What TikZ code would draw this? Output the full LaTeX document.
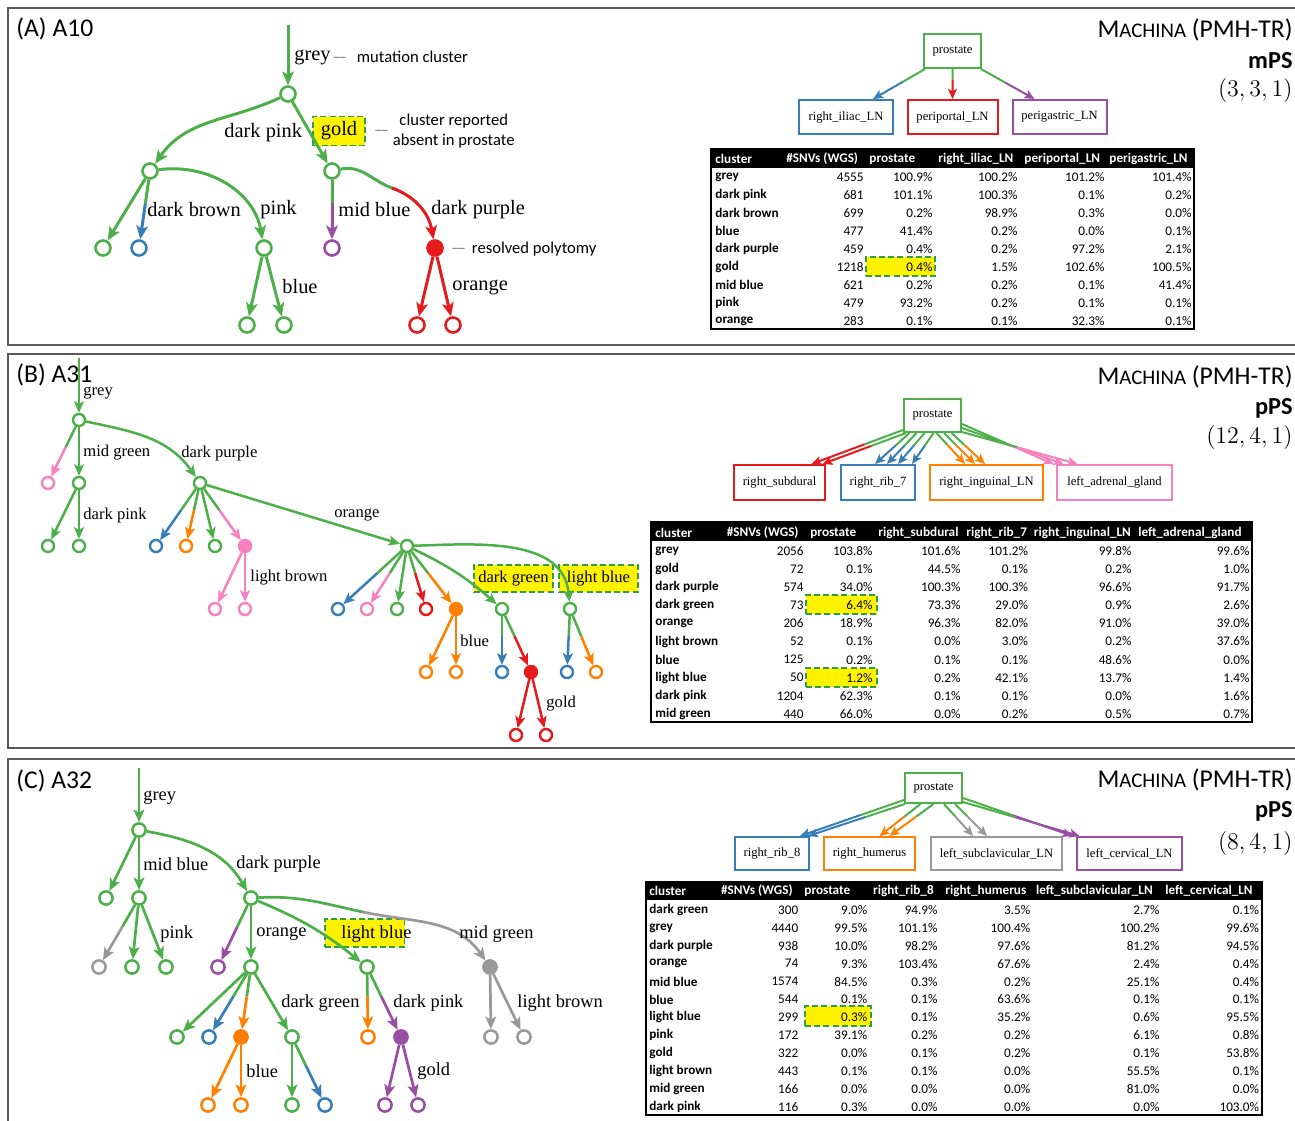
\documentclass[tikz,border=0pt]{standalone}
\usepackage[no-math]{fontspec}
\setmainfont{Liberation Serif}
\newfontfamily\calib{Carlito}
\usetikzlibrary{arrows.meta,calc}

\definecolor{cgreen}{HTML}{4DAF4A}
\definecolor{cblue}{HTML}{377EB8}
\definecolor{cred}{HTML}{E41A1C}
\definecolor{cpurple}{HTML}{984EA3}
\definecolor{corange}{HTML}{FF7F00}
\definecolor{cpink}{HTML}{F781BF}
\definecolor{cgrey}{HTML}{999999}
\definecolor{hlgreen}{HTML}{2E9E48}

\begin{document}
\begin{tikzpicture}[x=0.5pt, y=-0.5pt, >={Stealth[length=6.8pt,width=5.8pt,inset=1.6pt]},
  frame/.style={draw=black!65, line width=0.8pt},
  vtx/.style={circle, draw=cgreen, fill=white, line width=1.3pt, minimum size=7.5pt, inner sep=0pt},
  full/.style={fill=#1, draw=#1},
  tedge/.style={line width=1.5pt},
  lab/.style={anchor=west, inner sep=0pt, font=\fontsize{#1}{#1}\selectfont},
  note/.style={anchor=west, inner sep=0pt, font=\calib\fontsize{8.3}{10}\selectfont},
  hl/.style={fill=yellow, draw=hlgreen, line width=0.9pt, dash pattern=on 3pt off 1.6pt, inner sep=0pt},
  loc/.style={draw=#1, line width=1pt, fill=white, inner sep=0pt, minimum height=17pt, font=\fontsize{6.3}{7}\selectfont},
  mig/.style={line width=1pt},
  mtip/.style={-{Stealth[length=5pt,width=4.4pt,inset=1.1pt]}},
  ptitle/.style={anchor=west, inner sep=0pt, font=\calib\fontsize{12.8}{14}\selectfont},
  side/.style={anchor=east, inner sep=0pt},
  head/.style={anchor=west, inner sep=0pt, text=white, font=\calib\bfseries\fontsize{6.6}{7}\selectfont},
  rowname/.style={anchor=west, inner sep=0pt, font=\calib\bfseries\fontsize{6.6}{7}\selectfont},
  cell/.style={anchor=east, inner sep=0pt, font=\calib\fontsize{6.6}{7}\selectfont},
  tab/.style={draw=black, line width=1pt}
]

\useasboundingbox (0,0) rectangle (1295,1120);

% panel frames
\draw[frame] (1300,8) -- (8,8) -- (8,345) -- (1300,345);
\draw[frame] (1300,354) -- (8,354) -- (8,748) -- (1300,748);
\draw[frame] (1300,759) -- (8,759) -- (8,1130);

%%% (A) A10
\begin{scope}
\node[ptitle] (aTitle) at (16,29) {(A) A10};
\node[side, font=\calib\fontsize{12.8}{14}\selectfont] (aMac) at (1293,30) {M{\fontsize{10.4}{12}\selectfont ACHINA} (PMH-TR)};
\node[side, font=\calib\bfseries\fontsize{12.2}{14}\selectfont] (aMod) at (1293,61) {mPS};
\node[side, font=\fontsize{12.3}{14}\selectfont] (aTup) at (1293,90) {$(3,3,1)$};

% tree
\node[hl, minimum width=26pt, minimum height=14.5pt, font=\fontsize{10.2}{12}\selectfont] (aGold) at (339,131) {gold};
\coordinate (aTop) at (288,25);
\coordinate (aSw) at (392,188);

\foreach \nm/\px/\py/\col in {a0/288/94/cgreen, a1/150/171/cgreen, a2/332/171/cgreen,
    a3/103/248/cgreen, a4/139/248/cblue, a5/264/248/cgreen, a6/332/248/cpurple,
    a8/247/325/cgreen, a9/284/325/cgreen, a10/417/325/cred, a11/453/325/cred}
  \node[vtx, draw=\col] (\nm) at (\px,\py) {};
\node[vtx, full=cred] (a7) at (435,248) {};

\draw[tedge, cgreen, ->] (aTop) -- (a0);
\draw[tedge, cgreen, ->] (a0) to[out=205, in=55] (a1);
\draw[tedge, cgreen, ->] (a1) to[out=8, in=100] (a5);
\draw[tedge, cgreen] (a2) to[out=12, in=160] (aSw);
\draw[tedge, cred, ->] (aSw) to[out=-20, in=100] (a7);

\foreach \i/\j/\col in {a0/a2/cgreen, a1/a3/cgreen, a5/a8/cgreen, a5/a9/cgreen, a7/a10/cred, a7/a11/cred}
  \draw[tedge, \col, ->] (\i) -- (\j);

\foreach \i/\j/\col in {a1/a4/cblue, a2/a6/cpurple} {
  \draw[tedge, cgreen] (\i) -- ($(\i)!0.42!(\j)$);
  \draw[tedge, \col, ->] ($(\i)!0.42!(\j)$) -- (\j);
}

\foreach \t/\px/\py [count=\k] in {grey/294/57, dark pink/224/133, dark brown/147/210, pink/260/210,
    mid blue/338/210, dark purple/431/210, blue/282/287, orange/452/287}
  \node[lab=10.2] (aL\k) at (\px,\py) {\t};

\node[note] (aN1) at (332,57) {\textcolor{black!50}{\textendash\kern-1pt\textendash}\hspace{5pt}mutation cluster};
\node[note] (aN2) at (374,131) {\textcolor{black!50}{\textendash\kern-1pt\textendash}\hspace{2pt}\begin{tabular}{@{}c@{}}cluster reported\\absent in prostate\end{tabular}};
\node[note] (aN3) at (451,249) {\textcolor{black!50}{\textendash\kern-1pt\textendash}\hspace{3pt}resolved polytomy};

% migration graph
\node[loc=cgreen, minimum width=28.5pt] (aPro) at (952.5,51) {prostate};
\node[loc=cblue, minimum width=47pt] (aIli) at (846,117) {right\_iliac\_LN};
\node[loc=cred, minimum width=45pt] (aPer) at (952.5,117) {periportal\_LN};
\node[loc=cpurple, minimum width=47pt] (aGas) at (1059.5,117) {perigastric\_LN};

\foreach \st/\sx/\sy/\en/\ex/\col/\fr in {aPro.south west/2/0/aIli.north/27/cblue/0.43,
    aPro.south/0/0/aPer.north/0/cred/0.35, aPro.south east/-1/0/aGas.north/-25/cpurple/0.45} {
  \coordinate (ms) at ($(\st)+(\sx,\sy)$);
  \coordinate (me) at ($(\en)+(\ex,0)$);
  \draw[mig, cgreen] (ms) -- ($(ms)!\fr!(me)$);
  \draw[mig, mtip, \col] ($(ms)!\fr!(me)$) -- (me);
}

% table
\fill (711,149) rectangle (1194,168);
\node[hl, minimum width=34.5pt, minimum height=9.5pt] (aHl) at (900.5,266.5) {};
\draw[tab] (711,149) rectangle (1194,329);
\foreach \t/\px [count=\k] in {cluster/715, \#SNVs (WGS)/786, prostate/869, right\_iliac\_LN/938,
    periportal\_LN/1024, perigastric\_LN/1109}
  \node[head] (aH\k) at (\px,159) {\t};
\foreach \nm/\sn/\vA/\vB/\vC/\vD [count=\k] in {grey/4555/100.9/100.2/101.2/101.4,
    dark pink/681/101.1/100.3/0.1/0.2, dark brown/699/0.2/98.9/0.3/0.0, blue/477/41.4/0.2/0.0/0.1,
    dark purple/459/0.4/0.2/97.2/2.1, gold/1218/0.4/1.5/102.6/100.5, mid blue/621/0.2/0.2/0.1/41.4,
    pink/479/93.2/0.2/0.1/0.1, orange/283/0.1/0.1/32.3/0.1} {
  \node[rowname] (aR\k) at (715,{159+18*\k}) {\nm};
  \node[cell] (aS\k) at (864,{159+18*\k}) {\sn};
  \node[cell] (aA\k) at (933,{159+18*\k}) {\vA\%};
  \node[cell] (aB\k) at (1018,{159+18*\k}) {\vB\%};
  \node[cell] (aC\k) at (1105,{159+18*\k}) {\vC\%};
  \node[cell] (aD\k) at (1192,{159+18*\k}) {\vD\%};
}
\end{scope}

%%% (B) A31
\begin{scope}[>={Stealth[length=5.8pt,width=5pt,inset=1.4pt]},
  vtx/.append style={minimum size=6pt, line width=1.2pt}, tedge/.append style={line width=1.25pt}]
\node[ptitle] (bTitle) at (16,375) {(B) A31};
\node[side, font=\calib\fontsize{12.8}{14}\selectfont] (bMac) at (1293,377) {M{\fontsize{10.4}{12}\selectfont ACHINA} (PMH-TR)};
\node[side, font=\calib\bfseries\fontsize{12.2}{14}\selectfont] (bMod) at (1293,408) {pPS};
\node[side, font=\fontsize{12.3}{14}\selectfont] (bTup) at (1293,437) {$(12,4,1)$};

% tree
\node[hl, minimum width=39.5pt, minimum height=13.5pt, font=\fontsize{8.3}{10}\selectfont] (bDg) at (513.5,578.5) {dark green};
\node[hl, minimum width=39.5pt, minimum height=13.5pt, font=\fontsize{8.3}{10}\selectfont] (bLb) at (598.5,578.5) {light blue};
\coordinate (bTop) at (79,358);

\foreach \nm/\px/\py/\col in {b0/79/420/cgreen, b1/48/483/cpink, b2/79/483/cgreen, b3/200/483/cgreen,
    b4/48/546/cgreen, b5/79/546/cgreen, b6/156/546/cblue, b7/186/546/corange, b8/215/546/cgreen,
    b10/407/546/cgreen, b11/215/609/cpink, b12/245/609/cpink, b13/338/609/cblue, b14/367/609/cpink,
    b15/397/609/cgreen, b16/426/609/cred, b18/502/609/cgreen, b19/570/609/cgreen,
    b20/426/672/corange, b21/456/672/corange, b22/502/672/cblue, b24/567/672/cblue,
    b25/596/672/corange, b26/516/735/cred, b27/546/735/cred}
  \node[vtx, draw=\col] (\nm) at (\px,\py) {};
\foreach \nm/\px/\py/\col in {b9/245/546/cpink, b17/456/609/corange, b23/531/672/cred}
  \node[vtx, full=\col] (\nm) at (\px,\py) {};

\draw[tedge, cgreen, ->] (bTop) -- (b0);
\draw[tedge, cgreen, ->] (b0) to[out=-12, in=125] (b3);
\draw[tedge, cgreen, ->] (b10) to[bend left=8] (b18);
\draw[tedge, cgreen, ->] (b10) to[out=2, in=95] (b19);

\foreach \i/\j/\col in {b0/b2/cgreen, b2/b4/cgreen, b2/b5/cgreen, b3/b8/cgreen, b3/b10/cgreen,
    b10/b15/cgreen, b9/b11/cpink, b9/b12/cpink, b17/b20/corange, b17/b21/corange,
    b23/b26/cred, b23/b27/cred}
  \draw[tedge, \col, ->] (\i) -- (\j);

\foreach \i/\j/\col in {b0/b1/cpink, b3/b6/cblue, b3/b7/corange, b3/b9/cpink, b10/b13/cblue,
    b10/b14/cpink, b10/b16/cred, b10/b17/corange, b18/b22/cblue, b18/b23/cred,
    b19/b24/cblue, b19/b25/corange} {
  \draw[tedge, cgreen] (\i) -- ($(\i)!0.43!(\j)$);
  \draw[tedge, \col, ->] ($(\i)!0.43!(\j)$) -- (\j);
}

\foreach \t/\px/\py [count=\k] in {grey/83/393, mid green/83/453, dark purple/181/453, dark pink/83/515,
    orange/334/515, light brown/250/578, blue/460/641, gold/546/704}
  \node[lab=8.3] (bL\k) at (\px,\py) {\t};

% migration graph
\node[loc=cgreen, minimum width=28.5pt, minimum height=16.5pt] (bPro) at (932.5,415.5) {prostate};
\node[loc=cred, minimum width=45.5pt, minimum height=17.5pt] (bSub) at (779.5,482.5) {right\_subdural};
\node[loc=cblue, minimum width=37pt, minimum height=17.5pt] (bRib) at (878,482.5) {right\_rib\_7};
\node[loc=corange, minimum width=56.5pt, minimum height=17.5pt] (bIng) at (986.5,482.5) {right\_inguinal\_LN};
\node[loc=cpink, minimum width=57.5pt, minimum height=17.5pt] (bAdr) at (1114.5,482.5) {left\_adrenal\_gland};

\foreach \st/\sx/\sy/\en/\ex/\col/\fr in {bPro.south west/0/-3/bSub.north/32/cred/0.42,
    bPro.south west/3/0/bSub.north/43/cred/0.42,
    bPro.south/-23/0/bRib.north/-3/cblue/0.4, bPro.south/-16/0/bRib.north/9/cblue/0.4,
    bPro.south/-8/0/bRib.north/20/cblue/0.4, bPro.south/1/0/bRib.north/34/cblue/0.4,
    bPro.south/4/0/bIng.north/-21.5/corange/0.38, bPro.south/11.5/0/bIng.north/-11.5/corange/0.38,
    bPro.south/19/0/bIng.north/-1.5/corange/0.38,
    bPro.south east/0/-9/bAdr.north/-61/cpink/0.48, bPro.south east/0/-5/bAdr.north/-51/cpink/0.48,
    bPro.south east/0/-1/bAdr.north/-37/cpink/0.48} {
  \coordinate (ms) at ($(\st)+(\sx,\sy)$);
  \coordinate (me) at ($(\en)+(\ex,0)$);
  \draw[mig, cgreen] (ms) -- ($(ms)!\fr!(me)$);
  \draw[mig, mtip, \col] ($(ms)!\fr!(me)$) -- (me);
}

% table
\fill (651,522) rectangle (1252,541);
\node[hl, minimum width=35.5pt, minimum height=9.5pt] (bHl1) at (841.5,604.5) {};
\node[hl, minimum width=35.5pt, minimum height=9.5pt] (bHl2) at (841.5,677.5) {};
\draw[tab] (651,522) rectangle (1252,722);
\foreach \t/\px [count=\k] in {cluster/655, \#SNVs (WGS)/726.5, prostate/810, right\_subdural/878,
    right\_rib\_7/966, right\_inguinal\_LN/1033.5, left\_adrenal\_gland/1138}
  \node[head] (bH\k) at (\px,533) {\t};
\foreach \nm/\sn/\vA/\vB/\vC/\vD/\vE [count=\k] in {grey/2056/103.8/101.6/101.2/99.8/99.6,
    gold/72/0.1/44.5/0.1/0.2/1.0, dark purple/574/34.0/100.3/100.3/96.6/91.7,
    dark green/73/6.4/73.3/29.0/0.9/2.6, orange/206/18.9/96.3/82.0/91.0/39.0,
    light brown/52/0.1/0.0/3.0/0.2/37.6, blue/125/0.2/0.1/0.1/48.6/0.0,
    light blue/50/1.2/0.2/42.1/13.7/1.4, dark pink/1204/62.3/0.1/0.1/0.0/1.6,
    mid green/440/66.0/0.0/0.2/0.5/0.7} {
  \node[rowname] (bR\k) at (655,{532.9+18.1*\k}) {\nm};
  \node[cell] (bS\k) at (804,{532.9+18.1*\k}) {\sn};
  \node[cell] (bA\k) at (873,{532.9+18.1*\k}) {\vA\%};
  \node[cell] (bB\k) at (961,{532.9+18.1*\k}) {\vB\%};
  \node[cell] (bC\k) at (1028.5,{532.9+18.1*\k}) {\vC\%};
  \node[cell] (bD\k) at (1132,{532.9+18.1*\k}) {\vD\%};
  \node[cell] (bE\k) at (1250,{532.9+18.1*\k}) {\vE\%};
}
\end{scope}

%%% (C) A32
\begin{scope}[>={Stealth[length=6.3pt,width=5.4pt,inset=1.5pt]},
  vtx/.append style={minimum size=6.6pt, line width=1.25pt}, tedge/.append style={line width=1.35pt}]
\node[ptitle] (cTitle) at (16,781) {(C) A32};
\node[side, font=\calib\fontsize{12.8}{14}\selectfont] (cMac) at (1293,780) {M{\fontsize{10.4}{12}\selectfont ACHINA} (PMH-TR)};
\node[side, font=\calib\bfseries\fontsize{12.2}{14}\selectfont] (cMod) at (1293,811) {pPS};
\node[side, font=\fontsize{12.3}{14}\selectfont] (cTup) at (1293,843) {$(8,4,1)$};

% tree
\node[hl, minimum width=39.75pt, minimum height=14pt] (cLb) at (364.75,933) {};
\coordinate (cTop) at (139,768);
\coordinate (cSw) at (363,912);

\foreach \nm/\px/\py/\col in {c0/139/830/cgreen, c1/106/898/cgreen, c2/139/898/cgreen, c3/251/898/cgreen,
    c4/99/967/cgrey, c5/132/967/cgreen, c6/166/967/cgreen, c7/218/967/cpurple, c8/251/967/cgreen,
    c9/367/967/cgreen, c11/177/1037/cgreen, c12/209/1037/cblue, c14/292/1037/cgreen,
    c15/368/1037/corange, c17/491/1037/cgrey, c18/524/1037/cgrey, c19/208/1105/corange,
    c20/241/1105/corange, c21/292/1105/cgreen, c22/325/1105/cblue, c23/385/1105/cpurple,
    c24/418/1105/cpurple}
  \node[vtx, draw=\col] (\nm) at (\px,\py) {};
\foreach \nm/\px/\py/\col in {c10/490/967/cgrey, c13/241/1037/corange, c16/401/1037/cpurple}
  \node[vtx, full=\col] (\nm) at (\px,\py) {};

\draw[tedge, cgreen, ->] (cTop) -- (c0);
\draw[tedge, cgreen, ->] (c0) to[out=-10, in=120] (c3);
\draw[tedge, cgreen, ->] (c3) to[bend left=8] (c9);
\draw[tedge, cgreen] (c3) to[out=3, in=168] (cSw);
\draw[tedge, cgrey, ->] (cSw) to[out=-12, in=125] (c10);

\foreach \i/\j/\col in {c0/c1/cgreen, c0/c2/cgreen, c2/c5/cgreen, c2/c6/cgreen, c3/c8/cgreen,
    c8/c11/cgreen, c8/c14/cgreen, c14/c21/cgreen, c13/c19/corange, c13/c20/corange,
    c16/c23/cpurple, c16/c24/cpurple, c10/c17/cgrey, c10/c18/cgrey}
  \draw[tedge, \col, ->] (\i) -- (\j);

\foreach \i/\j/\col in {c2/c4/cgrey, c3/c7/cpurple, c8/c12/cblue, c8/c13/corange, c14/c22/cblue,
    c9/c15/corange, c9/c16/cpurple} {
  \draw[tedge, cgreen] (\i) -- ($(\i)!0.42!(\j)$);
  \draw[tedge, \col, ->] ($(\i)!0.42!(\j)$) -- (\j);
}

\foreach \t/\px/\py [count=\k] in {grey/143/798, mid blue/143/864, dark purple/236/864, pink/160/934,
    orange/256/934, light blue/341/934, mid green/459/934, dark green/281/1003, dark pink/393/1003,
    light brown/517/1003, blue/246/1071, gold/417/1071}
  \node[lab=9.2] (cL\k) at (\px,\py) {\t};

% migration graph
\node[loc=cgreen, minimum width=28.5pt, minimum height=15pt] (cPro) at (933.5,788) {prostate};
\node[loc=cblue, minimum width=37pt, minimum height=16.5pt] (cRib) at (772,853.5) {right\_rib\_8};
\node[loc=corange, minimum width=45.5pt, minimum height=16.5pt] (cHum) at (869.5,853.5) {right\_humerus};
\node[loc=cgrey, minimum width=65.5pt, minimum height=16.5pt] (cSub) at (996.5,853.5) {left\_subclavicular\_LN};
\node[loc=cpurple, minimum width=52.5pt, minimum height=16.5pt] (cCer) at (1129.5,853.5) {left\_cervical\_LN};

\foreach \st/\sx/\sy/\en/\ex/\col/\fr in {cPro.south west/0/-4/cRib.north east/-10/cblue/0.41,
    cPro.south west/1/0/cRib.north east/-2/cblue/0.41,
    cPro.south/-13/0/cHum.north/10/corange/0.4, cPro.south/0/0/cHum.north/20/corange/0.4,
    cPro.south/10.5/0/cSub.north/-23.5/cgrey/0.38, cPro.south/21.5/0/cSub.north/-9.5/cgrey/0.38,
    cPro.south east/0/-6/cCer.north/-57/cpurple/0.45, cPro.south east/0/-2/cCer.north/-50/cpurple/0.45} {
  \coordinate (ms) at ($(\st)+(\sx,\sy)$);
  \coordinate (me) at ($(\en)+(\ex,0)$);
  \draw[mig, cgreen] (ms) -- ($(ms)!\fr!(me)$);
  \draw[mig, mtip, \col] ($(ms)!\fr!(me)$) -- (me);
}

% table
\fill (646,882) rectangle (1262,900);
\node[hl, minimum width=32.8pt, minimum height=10pt] (cHl) at (837.8,1016) {};
\draw[tab] (646,882) rectangle (1262,1115);
\foreach \t/\px [count=\k] in {cluster/649, \#SNVs (WGS)/720.6, prostate/804, right\_rib\_8/872.7,
    right\_humerus/945, left\_subclavicular\_LN/1035.6, left\_cervical\_LN/1165}
  \node[head] (cH\k) at (\px,891) {\t};
\foreach \nm/\sn/\vA/\vB/\vC/\vD/\vE [count=\k] in {dark green/300/9.0/94.9/3.5/2.7/0.1,
    grey/4440/99.5/101.1/100.4/100.2/99.6, dark purple/938/10.0/98.2/97.6/81.2/94.5,
    orange/74/9.3/103.4/67.6/2.4/0.4, mid blue/1574/84.5/0.3/0.2/25.1/0.4,
    blue/544/0.1/0.1/63.6/0.1/0.1, light blue/299/0.3/0.1/35.2/0.6/95.5,
    pink/172/39.1/0.2/0.2/6.1/0.8, gold/322/0.0/0.1/0.2/0.1/53.8,
    light brown/443/0.1/0.1/0.0/55.5/0.1, mid green/166/0.0/0.0/0.0/81.0/0.0,
    dark pink/116/0.3/0.0/0.0/0.0/103.0} {
  \node[rowname] (cR\k) at (649,{892.1+17.9*\k}) {\nm};
  \node[cell] (cS\k) at (798.7,{892.1+17.9*\k}) {\sn};
  \node[cell] (cA\k) at (867.6,{892.1+17.9*\k}) {\vA\%};
  \node[cell] (cB\k) at (938,{892.1+17.9*\k}) {\vB\%};
  \node[cell] (cC\k) at (1030.6,{892.1+17.9*\k}) {\vC\%};
  \node[cell] (cD\k) at (1160,{892.1+17.9*\k}) {\vD\%};
  \node[cell] (cE\k) at (1259.5,{892.1+17.9*\k}) {\vE\%};
}
\end{scope}

\end{tikzpicture}
\end{document}
